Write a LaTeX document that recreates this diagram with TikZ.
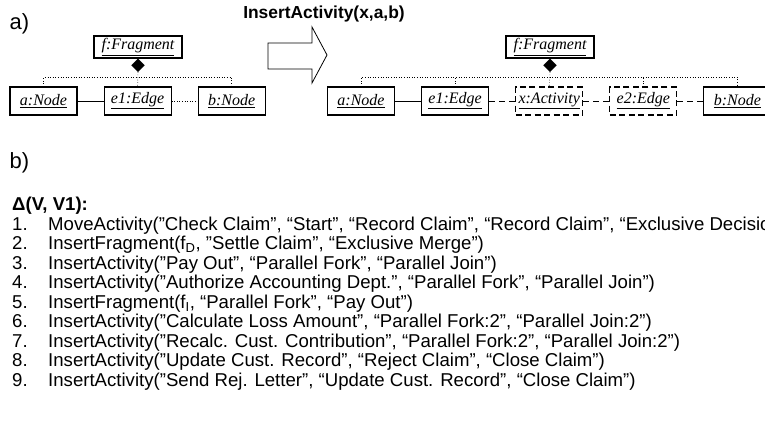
\documentclass[tikz,border=0pt]{standalone}
\usepackage{fontspec}
\setmainfont{Liberation Sans}
\newfontfamily\umlfont{Liberation Serif}
\usetikzlibrary{positioning,shapes.geometric}

\begin{document}
\begin{tikzpicture}[
  x=1pt, y=-1pt,
  node distance=26pt,
  obj/.style={draw, line width=1.1pt, minimum width=67pt, minimum height=28pt, inner sep=1pt, font=\umlfont\itshape\fontsize{16}{16}\selectfont},
  newobj/.style={obj, dash pattern=on 6pt off 3.5pt},
  frag/.style={obj, minimum width=88pt, minimum height=22pt},
  comp/.style={diamond, draw, fill=black, inner sep=0pt, minimum size=13pt},
  link/.style={line width=0.9pt},
  newlink/.style={line width=0.9pt, dash pattern=on 6pt off 4pt},
  assoc/.style={dotted, line width=0.6pt},
  lbl/.style={font=\fontsize{22}{22}\selectfont},
  lst/.style={font=\fontsize{18.6}{19.5}\selectfont, inner sep=0pt, align=left}
]
\useasboundingbox (0,0) rectangle (765,421);

% a) before and after
\node[lbl, anchor=west] (parta) at (6,24) {a)};
\node[font=\bfseries\fontsize{17.4}{17.4}\selectfont] (title) at (324,14) {InsertActivity(x,a,b)};

% left model
\node[obj] (aL) at (43.5,101) {\underline{a:Node}};
\node[obj, right=of aL] (eL) {\underline{e1:Edge}};
\node[obj, right=of eL] (bL) {\underline{b:Node}};
\node[frag] (fL) at (138,47) {\underline{f:Fragment}};
\node[comp, below=0pt of fL] (dL) {};

\draw[link] (aL) -- (eL);
\draw[assoc] (eL) -- (bL);
\draw[assoc] (aL.north) -- ++(0,-9) -| (bL.north);
\draw[assoc] (dL.south) -- (eL.north);

% transformation arrow
\draw[line width=0.8pt] (268,43) -- (312,43) -- (312,27) -- (327,55) -- (312,83) -- (312,69) -- (268,69) -- cycle;

% right model
\node[obj] (aR) at (361,101) {\underline{a:Node}};
\node[obj, right=of aR] (eR) {\underline{e1:Edge}};
\node[newobj, right=of eR] (xR) {\underline{x:Activity}};
\node[newobj, right=of xR] (e2R) {\underline{e2:Edge}};
\node[obj, right=of e2R] (bR) {\underline{b:Node}};
\node[frag] (fR) at (550,47) {\underline{f:Fragment}};
\node[comp, below=0pt of fR] (dR) {};

\draw[link] (aR) -- (eR);
\draw[newlink] (eR) -- (xR);
\draw[newlink] (xR) -- (e2R);
\draw[newlink] (e2R) -- (bR);
\draw[assoc] (aR.north) -- ++(0,-9) -| (bR.north);
\draw[assoc] (eR.north) -- ++(0,-9);
\draw[assoc] (e2R.north) -- ++(0,-9);
\draw[assoc] (dR.south) -- (xR.north);

% b) change list
\node[lbl, anchor=west] (partb) at (6,163) {b)};
\node[lst, anchor=north west] (delta) at (12,197) {%
\begin{tabular}{@{}p{36pt}@{}l@{}}
\multicolumn{2}{@{}l}{\textbf{Δ(V, V1):}}\\
1. & MoveActivity(”Check Claim”, “Start”, “Record Claim”, “Record Claim”, “Exclusive Decision”)\\
2. & InsertFragment(f\textsubscript{D}, ”Settle Claim”, “Exclusive Merge”)\\
3. & InsertActivity(”Pay Out”, “Parallel Fork”, “Parallel Join”)\\
4. & InsertActivity(”Authorize Accounting Dept.”, “Parallel Fork”, “Parallel Join”)\\
5. & InsertFragment(f\textsubscript{I}, “Parallel Fork”, “Pay Out”)\\
6. & InsertActivity(”Calculate Loss Amount”, “Parallel Fork:2”, “Parallel Join:2”)\\
7. & InsertActivity(”Recalc. Cust. Contribution”, “Parallel Fork:2”, “Parallel Join:2”)\\
8. & InsertActivity(”Update Cust. Record”, “Reject Claim”, “Close Claim”)\\
9. & InsertActivity(”Send Rej. Letter”, “Update Cust. Record”, “Close Claim”)
\end{tabular}};
\end{tikzpicture}
\end{document}
